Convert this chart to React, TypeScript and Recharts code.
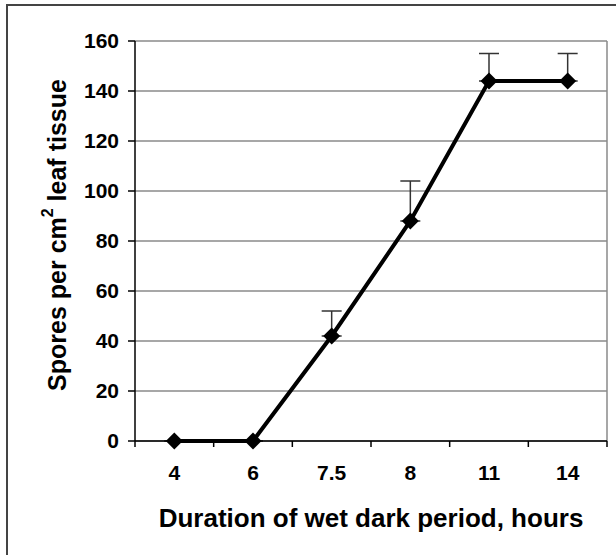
import { LineChart, Line, XAxis, YAxis, CartesianGrid, ErrorBar, ReferenceLine, Label } from "recharts";

const hours = ["4", "6", "7.5", "8", "11", "14"];
const spores = [0, 0, 42, 88, 144, 144];
const errorUp = [0, 0, 10, 16, 11, 11];
const yTicks = [0, 20, 40, 60, 80, 100, 120, 140, 160];

// numeric x so we can put tick marks on category boundaries
const data = hours.map((h, i) => ({
  pos: i + 0.5,
  hours: h,
  spores: spores[i],
  err: [0, errorUp[i]],
}));
const xTicks = [0, 0.5, 1, 1.5, 2, 2.5, 3, 3.5, 4, 4.5, 5, 5.5, 6];

const font = "'Liberation Sans', Arial, sans-serif";

function XTick(props: any) {
  const { x, y, payload } = props;
  const v = payload.value;
  if (Number.isInteger(v)) {
    return <line x1={x} x2={x} y1={y} y2={y + 6} stroke="#000" strokeWidth={1.5} />;
  }
  return (
    <text x={x} y={y + 39} textAnchor="middle" fontFamily={font} fontWeight="bold" fontSize={21} fill="#000">
      {hours[Math.floor(v)]}
    </text>
  );
}

function Diamond(props: any) {
  const { cx, cy, index } = props;
  const r = 8.5;
  return <path key={index} d={`M${cx},${cy - r}L${cx + r},${cy}L${cx},${cy + r}L${cx - r},${cy}Z`} fill="#000" />;
}

export default function App() {
  return (
    <div style={{ position: "absolute", left: 0, top: 0, width: 616, height: 555, overflow: "hidden", background: "#fff" }}>
      <div style={{ position: "absolute", left: 6, top: 4, width: 800, height: 800, border: "2px solid #444" }} />
      <LineChart
        width={616}
        height={555}
        data={data}
        margin={{ top: 41, right: 9, bottom: 54, left: 0 }}
        style={{ position: "absolute", left: 0, top: 0 }}
      >
        <CartesianGrid horizontal vertical={false} stroke="#8a8a8a" strokeWidth={1.5} />
        <ReferenceLine x={6} stroke="#8a8a8a" strokeWidth={1.5} />
        <XAxis
          dataKey="pos"
          type="number"
          domain={[0, 6]}
          ticks={xTicks}
          interval={0}
          tickLine={false}
          tickSize={0}
          tickMargin={0}
          tick={<XTick />}
          axisLine={{ stroke: "#000", strokeWidth: 1.5 }}
          height={60}
        >
          <Label
            content={(p: any) => (
              <text
                x={p.viewBox.x + p.viewBox.width / 2}
                y={p.viewBox.y + 86}
                textAnchor="middle"
                fontFamily={font}
                fontWeight="bold"
                fontSize={26}
                fill="#000"
              >
                Duration of wet dark period, hours
              </text>
            )}
          />
        </XAxis>
        <YAxis
          domain={[0, 160]}
          ticks={yTicks}
          interval={0}
          width={135}
          tickSize={7}
          tickMargin={9}
          axisLine={{ stroke: "#000", strokeWidth: 1.5 }}
          tickLine={{ stroke: "#000", strokeWidth: 1.5 }}
          tick={{ fill: "#000", fontFamily: font, fontWeight: "bold", fontSize: 21 }}
        >
          <Label
            content={(p: any) => {
              const cx = 57;
              const cy = p.viewBox.y + p.viewBox.height / 2 - 6;
              return (
                <text
                  x={cx}
                  y={cy}
                  transform={`rotate(-90, ${cx}, ${cy})`}
                  textAnchor="middle"
                  dominantBaseline="central"
                  fontFamily={font}
                  fontWeight="bold"
                  fontSize={25}
                  fill="#000"
                >
                  <tspan>Spores per cm</tspan>
                  <tspan dy={-10} fontSize={16}>2</tspan>
                  <tspan dy={10}> leaf tissue</tspan>
                </text>
              );
            }}
          />
        </YAxis>
        <Line
          dataKey="spores"
          stroke="#000"
          strokeWidth={4}
          dot={<Diamond />}
          activeDot={false}
          isAnimationActive={false}
        >
          <ErrorBar dataKey="err" direction="y" width={10} stroke="#333" strokeWidth={1.5} />
        </Line>
      </LineChart>
    </div>
  );
}
